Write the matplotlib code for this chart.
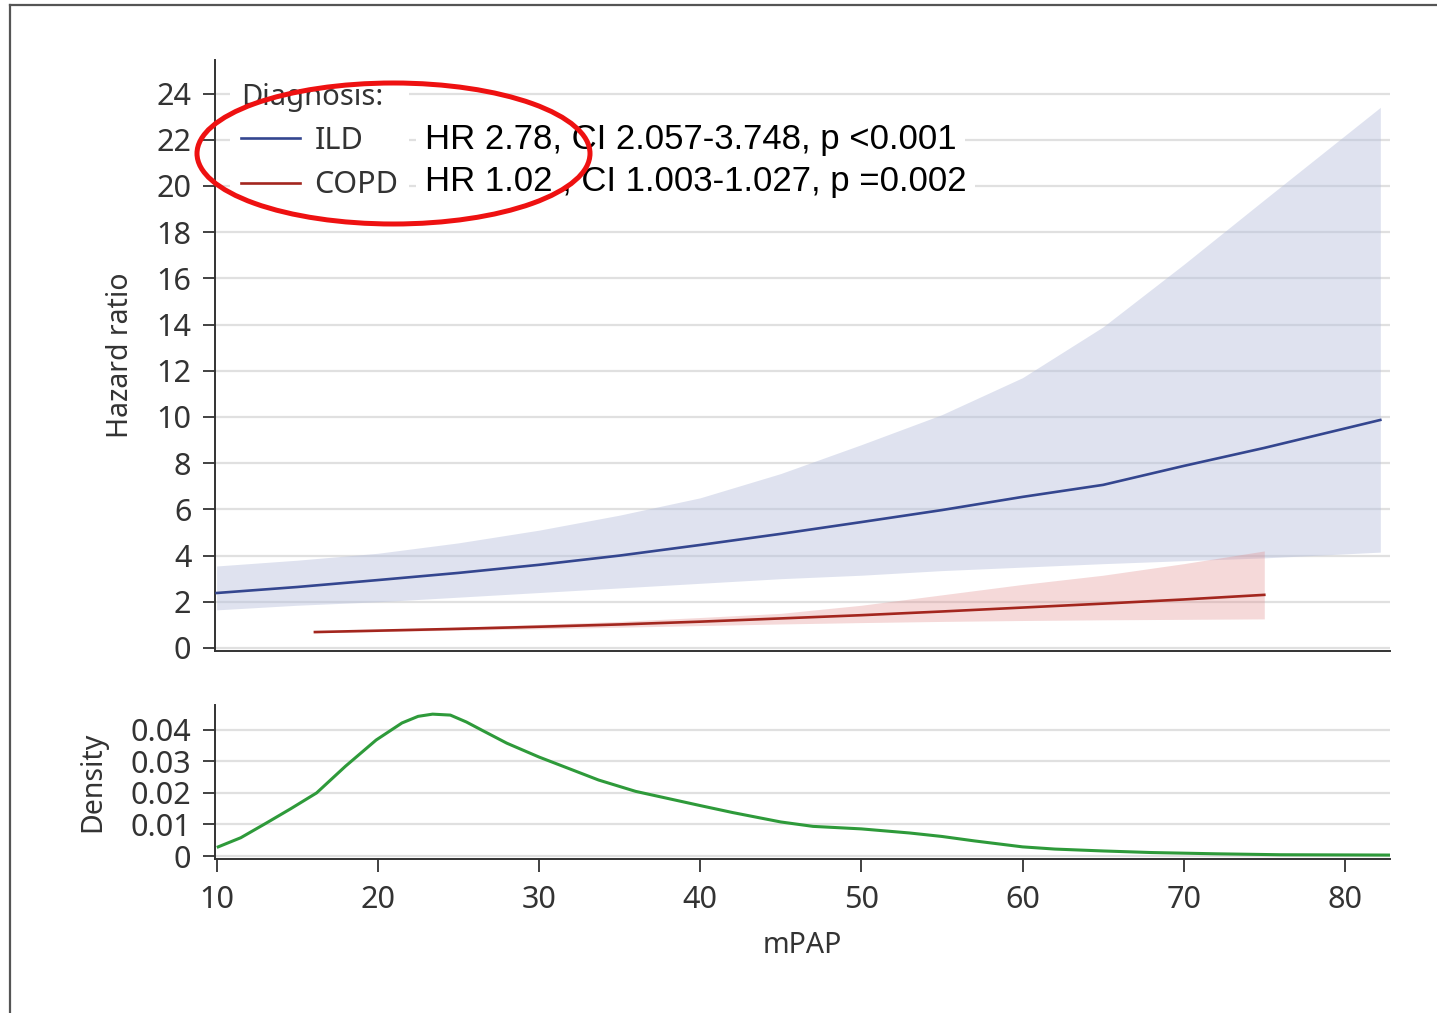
import numpy as np
import matplotlib.pyplot as plt
from matplotlib.patches import Ellipse
from matplotlib.lines import Line2D

# data
ild_x = [10, 15, 20, 25, 30, 35, 40, 45, 50, 55, 60, 65, 70, 75, 82.2]
ild_hr = [2.38, 2.64, 2.94, 3.25, 3.6, 4.0, 4.46, 4.94, 5.45, 5.97, 6.54, 7.06, 7.88, 8.66, 9.87]
ild_lo = [1.65, 1.85, 2.0, 2.2, 2.4, 2.6, 2.8, 3.0, 3.15, 3.35, 3.5, 3.65, 3.78, 3.9, 4.15]
ild_hi = [3.55, 3.8, 4.1, 4.55, 5.1, 5.75, 6.5, 7.55, 8.8, 10.1, 11.7, 13.9, 16.6, 19.4, 23.4]

copd_x = [16.1, 20, 25, 30, 35, 40, 45, 50, 55, 60, 65, 70, 75]
copd_hr = [0.69, 0.75, 0.83, 0.92, 1.02, 1.14, 1.28, 1.42, 1.58, 1.75, 1.92, 2.1, 2.3]
copd_lo = [0.66, 0.71, 0.77, 0.83, 0.9, 0.97, 1.04, 1.1, 1.15, 1.19, 1.22, 1.24, 1.26]
copd_hi = [0.72, 0.79, 0.9, 1.02, 1.15, 1.32, 1.5, 1.85, 2.3, 2.75, 3.15, 3.65, 4.2]

dens_x = [10.1, 11.5, 13.1, 14.6, 16.2, 18, 19.9, 21.5, 22.5, 23.4, 24.5, 25.5, 26.5, 28, 30,
          33.7, 36, 40, 42, 45, 47, 50, 53, 55, 57, 60, 62, 65, 68, 72, 76, 82.8]
dens_y = [0.0029, 0.0058, 0.0105, 0.0150, 0.020, 0.0285, 0.0368, 0.0422, 0.0443, 0.0450,
          0.0447, 0.0425, 0.0398, 0.0358, 0.0314, 0.0241, 0.0205, 0.016, 0.0138, 0.0108,
          0.0094, 0.0086, 0.0073, 0.0062, 0.0048, 0.0029, 0.0022, 0.0016, 0.0011, 0.0007,
          0.0004, 0.0003]

hr_ticks = [0, 2, 4, 6, 8, 10, 12, 14, 16, 18, 20, 22, 24]
dens_ticks = [0, 0.01, 0.02, 0.03, 0.04]
dens_labels = ['0', '0.01', '0.02', '0.03', '0.04']
x_ticks = [10, 20, 30, 40, 50, 60, 70, 80]

stats = ['HR 2.78, CI 2.057-3.748, p <0.001',
         'HR 1.02 , CI 1.003-1.027, p =0.002']

plt.rcParams['font.family'] = ['Noto Sans', 'DejaVu Sans']
txt = '#333333'
grid_c = '#e0e0e0'

fig = plt.figure(figsize=(14.37, 10.13), dpi=100)
W, H = 1437, 1013

ax = fig.add_axes([215 / W, 1 - 651 / H, 1175 / W, 591 / H])
ax2 = fig.add_axes([215 / W, 1 - 859 / H, 1175 / W, 154 / H])

# top panel
ax.fill_between(ild_x, ild_lo, ild_hi, color='#b8c0dd', alpha=0.45, lw=0, zorder=2)
ax.fill_between(copd_x, copd_lo, copd_hi, color='#e08a8a', alpha=0.32, lw=0, zorder=2)
ax.plot(ild_x, ild_hr, color='#34468f', lw=1.9, zorder=3)
ax.plot(copd_x, copd_hr, color='#a3261e', lw=1.9, zorder=3)
ax.set_xlim(9.9, 82.8)
ax.set_ylim(-0.13, 25.45)
ax.set_yticks(hr_ticks)
ax.set_xticks([])
ax.set_ylabel('Hazard ratio', fontsize=20.5, color=txt)
ax.yaxis.set_label_coords(-0.068, 0.5)

# bottom panel
ax2.plot(dens_x, dens_y, color='#2e9a3a', lw=2.2, zorder=3)
ax2.set_xlim(9.9, 82.8)
ax2.set_ylim(-0.00095, 0.0479)
ax2.set_yticks(dens_ticks)
ax2.set_yticklabels(dens_labels)
ax2.set_xticks(x_ticks)
ax2.set_ylabel('Density', fontsize=20.5, color=txt)
ax2.yaxis.set_label_coords(-0.092, 0.5)
ax2.set_xlabel('mPAP', fontsize=20.5, color=txt)
ax2.xaxis.set_label_coords(0.5, -0.47)

for a in (ax, ax2):
    for s in ('top', 'right'):
        a.spines[s].set_visible(False)
    for s in ('left', 'bottom'):
        a.spines[s].set_color('#333333')
        a.spines[s].set_linewidth(1.4)
    a.grid(axis='y', color=grid_c, lw=1.6, zorder=0)
    a.set_axisbelow(True)
    a.tick_params(axis='both', labelsize=22, colors=txt, length=9, width=1.3)
    a.tick_params(axis='y', pad=8)
    a.tick_params(axis='x', pad=10)

# legend
handles = [Line2D([], [], color='#34468f', lw=1.9),
           Line2D([], [], color='#a3261e', lw=1.9)]
leg = ax.legend(handles, ['ILD', 'COPD'], title='Diagnosis:', loc='upper left',
                bbox_to_anchor=(230 / W, 1 - 72 / H), bbox_transform=fig.transFigure,
                fontsize=22, title_fontsize=21, alignment='left', frameon=True,
                fancybox=False, edgecolor='none', facecolor='white', framealpha=1,
                borderpad=0.35, borderaxespad=0, handlelength=1.95, handletextpad=0.46,
                labelspacing=0.47)
for t in leg.get_texts():
    t.set_color(txt)
leg.get_title().set_color(txt)
leg.set_zorder(5)

for i, s in enumerate(stats):
    fig.text(425 / W, 1 - (139 + 43 * i) / H, s, fontsize=25, family='Liberation Sans',
             color='black', va='center', ha='left', zorder=6,
             bbox=dict(boxstyle='square,pad=0.25', fc='white', ec='none'))

# red highlight ellipse and outer frame
fig.add_artist(Ellipse((393.5 / W, 1 - 153.5 / H), 393 / W, 141 / H, transform=fig.transFigure,
                       fill=False, ec='#ee1111', lw=3.6, zorder=10))
fig.add_artist(Line2D([10 / W, 1], [1 - 5 / H, 1 - 5 / H], transform=fig.transFigure,
                      color='#555555', lw=1.6))
fig.add_artist(Line2D([10 / W, 10 / W], [0, 1 - 5 / H], transform=fig.transFigure,
                      color='#555555', lw=1.6))

fig.savefig('out.png', dpi=100)
